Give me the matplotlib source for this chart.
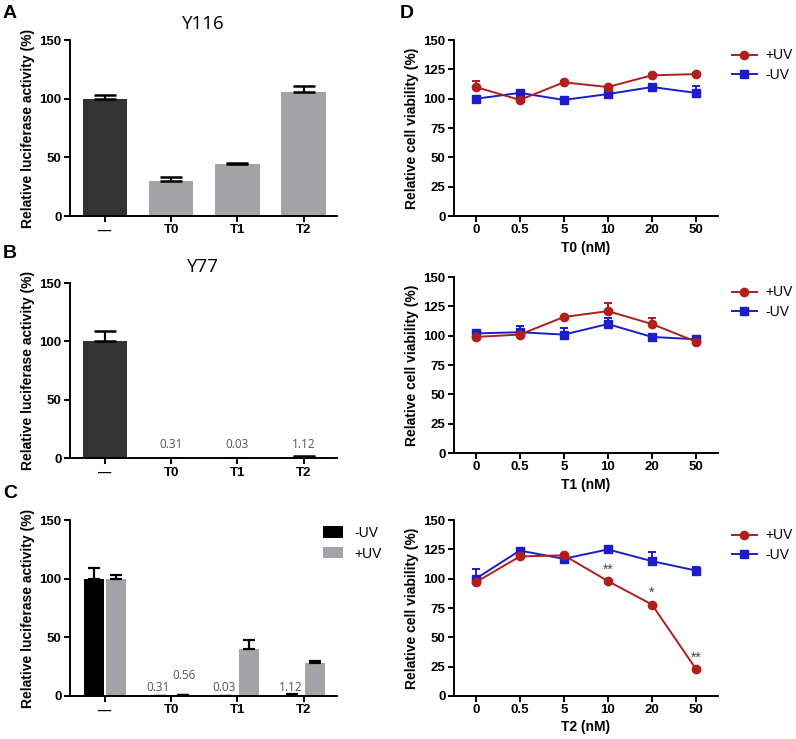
import numpy as np
import matplotlib
matplotlib.use('Agg')
import matplotlib.pyplot as plt
from matplotlib.lines import Line2D

plt.rcParams['font.family'] = ['Liberation Sans', 'DejaVu Sans']

# Datos paneles A-C (luciferasa)
groups = ['—', 'T0', 'T1', 'T2']
a_vals = [100, 30, 44, 106]
a_err = [3, 3, 1, 5]
b_vals = [100, 0.31, 0.03, 1.12]
b_err = [9, 0, 0, 0.4]
b_labels = ['', '0.31', '0.03', '1.12']
c_minus = [100, 0.31, 0.03, 1.12]
c_minus_err = [9, 0, 0, 0.4]
c_plus = [100, 0.56, 40, 28]
c_plus_err = [3, 0.2, 8, 2]
c_minus_labels = ['', '0.31', '0.03', '1.12']
c_plus_labels = ['', '0.56', '', '']

# Datos panel D (viabilidad)
conc = ['0', '0.5', '5', '10', '20', '50']
t0_plus = [110, 99, 114, 110, 120, 121]
t0_plus_err = [5, 1, 1, 1, 1, 1]
t0_minus = [100, 105, 99, 104, 110, 105]
t0_minus_err = [1, 1, 1, 4, 1, 6]
t1_plus = [99, 101, 116, 121, 110, 95]
t1_plus_err = [1, 1, 1, 7, 5, 1]
t1_minus = [102, 103, 101, 110, 99, 97]
t1_minus_err = [1, 5, 6, 5, 1, 1]
t2_plus = [97, 119, 120, 98, 78, 23]
t2_plus_err = [1, 1, 1, 1, 1, 1]
t2_minus = [100, 124, 117, 125, 115, 107]
t2_minus_err = [8, 1, 1, 1, 8, 3]
t2_stars = ['', '', '', '**', '*', '**']

red = '#B01E1E'
blue = '#1C1CC8'
dark = '#333333'
gray = '#A4A4A8'

fig = plt.figure(figsize=(7.96, 7.39), dpi=100)


def style_ax(ax, ylabel, yticks):
    for s in ['top', 'right']:
        ax.spines[s].set_visible(False)
    for s in ['left', 'bottom']:
        ax.spines[s].set_linewidth(1.4)
    ax.set_ylim(0, 150)
    ax.set_yticks(yticks)
    ax.tick_params(width=1.4, length=4, labelsize=9.5, pad=2)
    for lab in ax.get_xticklabels() + ax.get_yticklabels():
        lab.set_fontweight('bold')
    ax.set_ylabel(ylabel, fontsize=10, fontweight='bold', labelpad=3)


x = np.arange(len(groups))

# Panel A
axA = fig.add_axes([0.088, 0.7077, 0.335, 0.238])
axA.bar(x, a_vals, width=0.67, color=[dark, gray, gray, gray])
axA.errorbar(x, a_vals, yerr=[np.zeros(4), a_err], fmt='none', ecolor='black',
             elinewidth=1.6, capsize=8, capthick=1.8)
axA.set_xlim(-0.53, 3.5)
axA.set_xticks(x)
axA.set_xticklabels(groups)
style_ax(axA, 'Relative luciferase activity (%)', [0, 50, 100, 150])
axA.set_title('Y116', fontsize=13.5, family='Open Sans', pad=8)

# Panel B
axB = fig.add_axes([0.088, 0.380, 0.335, 0.237])
axB.bar(x, b_vals, width=0.67, color=[dark, gray, gray, gray])
axB.errorbar(x, b_vals, yerr=[np.zeros(4), b_err], fmt='none', ecolor='black',
             elinewidth=1.6, capsize=8, capthick=1.8)
for xi, lab in zip(x, b_labels):
    axB.text(xi, 6, lab, ha='center', va='bottom', fontsize=8.5,
             color='#555555', family='Open Sans')
axB.set_xlim(-0.53, 3.5)
axB.set_xticks(x)
axB.set_xticklabels(groups)
style_ax(axB, 'Relative luciferase activity (%)', [0, 50, 100, 150])
axB.set_title('Y77', fontsize=13.5, family='Open Sans', pad=8)

# Panel C
axC = fig.add_axes([0.088, 0.0582, 0.335, 0.238])
w = 0.3
axC.bar(x - 0.17, c_minus, width=w, color='black', label='-UV')
axC.bar(x + 0.17, c_plus, width=w, color=gray, label='+UV')
axC.errorbar(x - 0.17, c_minus, yerr=[np.zeros(4), c_minus_err], fmt='none',
             ecolor='black', elinewidth=1.6, capsize=4, capthick=1.6)
axC.errorbar(x + 0.17, c_plus, yerr=[np.zeros(4), c_plus_err], fmt='none',
             ecolor='black', elinewidth=1.6, capsize=4, capthick=1.6)
for xi, lab in zip(x, c_minus_labels):
    axC.text(xi - 0.2, 2, lab, ha='center', va='bottom', fontsize=8.5,
             color='#555555', family='Open Sans')
for xi, lab in zip(x, c_plus_labels):
    axC.text(xi + 0.2, 12, lab, ha='center', va='bottom', fontsize=8.5,
             color='#555555', family='Open Sans')
axC.set_xlim(-0.53, 3.5)
axC.set_xticks(x)
axC.set_xticklabels(groups)
style_ax(axC, 'Relative luciferase activity (%)', [0, 50, 100, 150])
axC.legend(loc='upper left', bbox_to_anchor=(0.9, 1.04), frameon=False,
           fontsize=10, handlelength=1.5, handleheight=0.9, labelspacing=0.5)

# Panel D
xd = np.arange(len(conc))
d_data = [
    (t0_plus, t0_plus_err, t0_minus, t0_minus_err, 'T0 (nM)', 0.7077),
    (t1_plus, t1_plus_err, t1_minus, t1_minus_err, 'T1 (nM)', 0.387),
    (t2_plus, t2_plus_err, t2_minus, t2_minus_err, 'T2 (nM)', 0.0582),
]
leg_handles = [
    Line2D([], [], color=red, marker='o', markersize=6, lw=1.4),
    Line2D([], [], color=blue, marker='s', markersize=6, lw=1.4),
]
d_axes = []
for plus, plus_err, minus, minus_err, xlab, bot in d_data:
    ax = fig.add_axes([0.570, bot, 0.332, 0.238])
    ax.errorbar(xd, minus, yerr=[np.zeros(6), minus_err], color=blue, marker='s',
                markersize=6, lw=1.4, elinewidth=1.4, capsize=3, capthick=1.4,
                zorder=3)
    ax.errorbar(xd, plus, yerr=[np.zeros(6), plus_err], color=red, marker='o',
                markersize=6, lw=1.4, elinewidth=1.4, capsize=3, capthick=1.4,
                zorder=4)
    ax.set_xlim(-0.5, 5.5)
    ax.set_xticks(xd)
    ax.set_xticklabels(conc)
    style_ax(ax, 'Relative cell viability (%)', [0, 25, 50, 75, 100, 125, 150])
    ax.set_xlabel(xlab, fontsize=10, fontweight='bold', labelpad=3)
    ax.legend(leg_handles, ['+UV', '-UV'], loc='upper left',
              bbox_to_anchor=(1.02, 1.0), frameon=False, fontsize=10,
              handlelength=1.8, handletextpad=0.6, labelspacing=0.4,
              borderaxespad=0.2)
    d_axes.append(ax)

for xi, v, s in zip(xd, t2_plus, t2_stars):
    d_axes[2].text(xi, v + 4, s, ha='center', va='bottom', fontsize=10,
                   color='#444444')

# Letras de panel
for lab, px, py in [('A', 3, 726), ('B', 3, 486), ('C', 3, 246), ('D', 400, 726)]:
    fig.text(px / 796, py / 739, lab, fontsize=14, fontweight='bold',
             va='center', ha='left')

fig.savefig('out.png', dpi=100)
